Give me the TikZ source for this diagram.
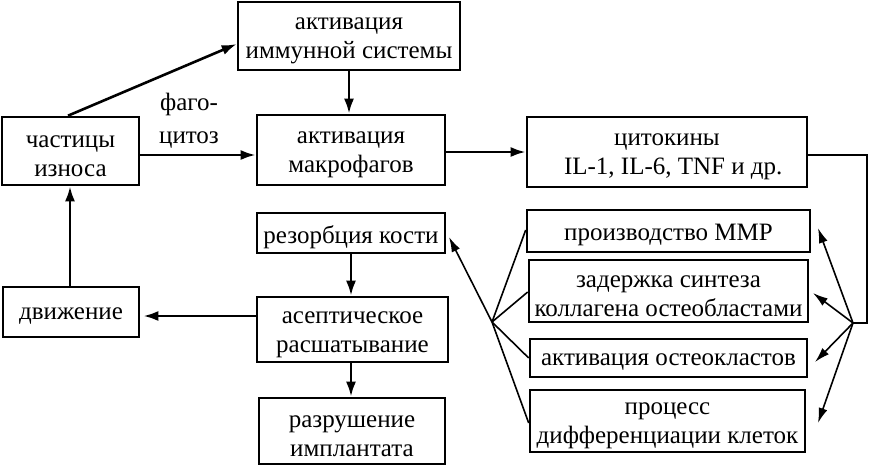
\documentclass[tikz,border=0pt]{standalone}
\usepackage{fontspec}
\setmainfont{Liberation Serif}
\usetikzlibrary{arrows.meta}
\begin{document}
\begin{tikzpicture}[x=1pt,y=-1pt,
  txt/.style={align=center,inner sep=0pt,font=\fontsize{25}{29}\selectfont},
  box/.style={draw,line width=2.6pt,inner sep=0pt},
  arr/.style={line width=2.6pt,-{Latex[length=15pt,width=10pt]}},
  thin/.style={line width=1.6pt},
  tarr/.style={line width=1.6pt,-{Latex[length=15pt,width=9pt]}}]
\useasboundingbox (0,0) rectangle (870,466);
\node[box,minimum width=137pt,minimum height=68pt] (part) at (70.5,151) {};
\node[box,minimum width=222pt,minimum height=68pt] (imm) at (349,36) {};
\node[box,minimum width=188pt,minimum height=70pt] (mac) at (351,150) {};
\node[box,minimum width=280pt,minimum height=70pt] (cyt) at (667,152) {};
\node[box,minimum width=283pt,minimum height=42pt] (mmp) at (668.5,231) {};
\node[box,minimum width=279pt,minimum height=62pt] (del) at (668.5,291) {};
\node[box,minimum width=277pt,minimum height=38pt] (ost) at (668.5,358) {};
\node[box,minimum width=275pt,minimum height=62pt] (dif) at (667.5,421) {};
\node[box,minimum width=188pt,minimum height=40pt] (res) at (351,233) {};
\node[box,minimum width=191pt,minimum height=65pt] (ase) at (352.5,329.5) {};
\node[box,minimum width=186pt,minimum height=66pt] (des) at (352,431) {};
\node[box,minimum width=136pt,minimum height=50pt] (mov) at (71,312) {};
\node[txt] (partT) at ([yshift=-5pt]part.center) {частицы\\износа};
\node[txt] (immT) at ([yshift=-5pt]imm.center) {активация\\иммунной системы};
\node[txt] (macT) at ([yshift=-5pt]mac.center) {активация\\макрофагов};
\node[txt] (cytT) at ([yshift=-5pt]cyt.center) {цитокины\\\ \ IL-1, IL-6, TNF и др.};
\node[txt] (mmpT) at ([yshift=-4pt]mmp.center) {производство MMP};
\node[txt] (delT) at ([yshift=-5pt]del.center) {задержка синтеза\\коллагена остеобластами};
\node[txt] (ostT) at ([yshift=-4pt]ost.center) {активация остеокластов};
\node[txt] (difT) at ([yshift=-5pt]dif.center) {процесс\\дифференциации клеток};
\node[txt] (resT) at ([yshift=-4pt]res.center) {резорбция кости};
\node[txt] (aseT) at ([yshift=-5pt]ase.center) {асептическое\\расшатывание};
\node[txt] (desT) at ([yshift=-5pt]des.center) {разрушение\\имплантата};
\node[txt] (movT) at ([yshift=-4pt]mov.center) {движение};
\node[txt,font=\fontsize{25}{33}\selectfont] (fag) at (189,121) {фаго-\\цитоз};
\coordinate (hr) at (853,323);
\coordinate (hl) at (492,322);
\coordinate (rc) at (867,155);
\draw[arr] (part.north -| 68,0) -- ([yshift=-8pt]imm.west);
\draw[arr] (part.east |- 0,155) -- (mac.west |- 0,155);
\draw[arr] (imm.south) -- (mac.north -| imm.south);
\draw[arr] (mac.east |- 0,152) -- (cyt.west |- 0,152);
\draw[line width=2.6pt] (cyt.east |- rc) -- (rc) -- (rc |- hr) -- (hr);
\draw[tarr] (hr) -- (818,228);
\draw[tarr] (hr) -- (813,293);
\draw[tarr] (hr) -- (815,362);
\draw[tarr] (hr) -- (818,423);
\draw[thin] (mmp.west |- 0,230) -- (hl);
\draw[thin] (del.west |- 0,292) -- (hl);
\draw[thin] (ost.west |- 0,358) -- (hl);
\draw[thin] (dif.west |- 0,423) -- (hl);
\draw[tarr] (hl) -- (449,237);
\draw[arr] (res.south) -- (ase.north -| res.south);
\draw[arr] (ase.south -| res.south) -- (des.north -| res.south);
\draw[arr] (ase.west |- 0,316) -- ([xshift=3pt]mov.east |- 0,316);
\draw[arr] (mov.north -| 70,0) -- (part.south -| 70,0);
\end{tikzpicture}
\end{document}
